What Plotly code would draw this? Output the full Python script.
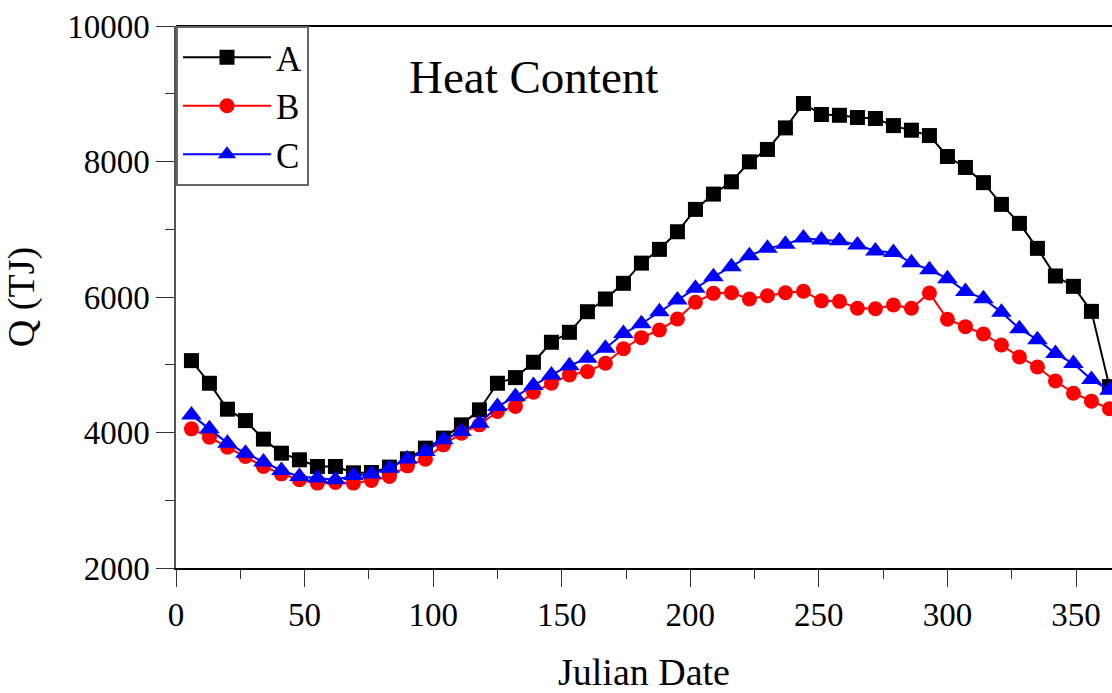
import plotly.graph_objects as go

julian_day = [6, 13, 20, 27, 34, 41, 48, 55, 62, 69, 76, 83, 90, 97, 104, 111, 118, 125,
              132, 139, 146, 153, 160, 167, 174, 181, 188, 195, 202, 209, 216, 223, 230,
              237, 244, 251, 258, 265, 272, 279, 286, 293, 300, 307, 314, 321, 328, 335,
              342, 349, 356, 363]

series_a = [5061, 4727, 4344, 4176, 3902, 3695, 3597, 3498, 3498, 3405, 3410, 3489, 3612,
            3769, 3917, 4113, 4334, 4727, 4810, 5037, 5332, 5479, 5783, 5970, 6202, 6500,
            6703, 6963, 7293, 7519, 7700, 7995, 8178, 8496, 8856, 8694, 8682, 8649, 8635,
            8530, 8462, 8383, 8074, 7912, 7688, 7367, 7087, 6718, 6310, 6157, 5788, 4677]

series_b = [4054, 3931, 3784, 3645, 3498, 3390, 3302, 3253, 3262, 3253, 3292, 3350, 3508,
            3607, 3818, 3990, 4113, 4309, 4383, 4595, 4727, 4850, 4899, 5022, 5236, 5400,
            5513, 5676, 5922, 6054, 6063, 5970, 6019, 6063, 6085, 5943, 5936, 5833, 5826,
            5882, 5833, 6058, 5671, 5562, 5454, 5292, 5115, 4967, 4761, 4580, 4463, 4350]

series_c = [4260, 4054, 3843, 3695, 3563, 3439, 3350, 3327, 3302, 3365, 3386, 3474, 3610,
            3719, 3892, 4014, 4138, 4383, 4530, 4692, 4850, 4987, 5096, 5243, 5460, 5605,
            5783, 5956, 6128, 6299, 6447, 6609, 6718, 6777, 6870, 6840, 6830, 6767, 6680,
            6656, 6504, 6403, 6270, 6083, 5975, 5776, 5531, 5370, 5165, 5017, 4781, 4624]

series_names = ["A", "B", "C"]
y_ticks = [2000, 4000, 6000, 8000, 10000]
y_tick_labels = ["2000", "4000", "6000", "8000", "10000"]
x_ticks = [0, 50, 100, 150, 200, 250, 300, 350]
x_tick_labels = ["0", "50", "100", "150", "200", "250", "300", "350"]

FONT = "Liberation Serif"

fig = go.Figure()
styles = [
    dict(color="#000000", symbol="square", size=15),
    dict(color="#FF0000", symbol="circle", size=15),
    dict(color="#0000FF", symbol="triangle-up", size=18),
]
for name, vals, st in zip(series_names, [series_a, series_b, series_c], styles):
    fig.add_trace(go.Scatter(
        x=julian_day, y=vals, name=name, mode="lines+markers",
        line=dict(color=st["color"], width=2),
        marker=dict(color=st["color"], symbol=st["symbol"], size=st["size"]),
    ))

fig.add_annotation(
    x=90, y=9250, xref="x", yref="y", text="Heat Content", showarrow=False,
    xanchor="left", yanchor="middle", font=dict(family=FONT, size=47, color="#000"),
)

fig.update_layout(
    width=1112, height=693,
    margin=dict(l=176, r=0, t=26, b=125),
    paper_bgcolor="white", plot_bgcolor="white",
    font=dict(family=FONT, color="#000"),
    showlegend=True,
    legend=dict(
        x=0, y=1, xanchor="left", yanchor="top",
        bgcolor="white", bordercolor="#666666", borderwidth=2,
        itemwidth=88,
        font=dict(family=FONT, size=35, color="#000"),
    ),
)

fig.update_xaxes(
    range=[0, 364], tickmode="array", tickvals=x_ticks, ticktext=x_tick_labels,
    ticks="outside", ticklen=17, tickwidth=1,
    tickcolor="#333", showline=True, linecolor="#000", linewidth=1.5, mirror=False,
    showgrid=False, zeroline=False,
    tickfont=dict(family=FONT, size=33, color="#000"),
    minor=dict(dtick=25, ticks="outside", ticklen=9, tickcolor="#333", showgrid=False),
    title=dict(text="Julian Date", font=dict(family=FONT, size=38, color="#000"), standoff=28),
)
fig.update_yaxes(
    range=[2000, 10000], tickmode="array", tickvals=y_ticks, ticktext=y_tick_labels,
    ticks="outside", ticklen=18, tickwidth=1,
    tickcolor="#333", showline=True, linecolor="#555", linewidth=1.5,
    showgrid=False, zeroline=False,
    tickfont=dict(family=FONT, size=33, color="#000"),
    minor=dict(dtick=1000, ticks="outside", ticklen=9, tickcolor="#333", showgrid=False),
    title=dict(text="Q (TJ)", font=dict(family=FONT, size=38, color="#000"), standoff=30),
)
# top border line
fig.add_shape(type="line", xref="paper", yref="paper", x0=0, x1=1, y0=1, y1=1,
              line=dict(color="#000", width=2))

fig.write_html("out.html")
